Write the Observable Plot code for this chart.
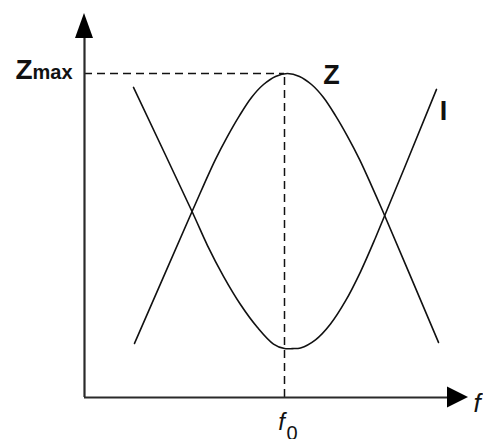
<!DOCTYPE html>
<html>
<head>
<meta charset="utf-8">
<script src="https://cdn.jsdelivr.net/npm/d3@7"></script>
<script src="https://cdn.jsdelivr.net/npm/@observablehq/plot@0.6"></script>
<style>
  html, body { margin: 0; padding: 0; background: #fff; }
  #chart svg { display: block; }
</style>
</head>
<body>
<div id="chart"></div>
<script>
// ---- data (frequency in units where f0 = 100, impedance where Zmax = 100) ----
const F0 = 100;
const ZMAX = 100;

const zFreq  = [25, 54, 59.5, 65.5, 71.5, 77.5, 83.5, 89.5, 95.5, 101.5, 107.5, 113.5, 119.5, 125.5, 131.5, 137.5, 143.5, 149, 177];
const zValue = [16.7, 57.7, 65.4, 73.5, 80.6, 87.0, 92.6, 96.6, 99.1, 100, 99.1, 96.6, 92.6, 87.0, 80.6, 73.5, 65.4, 57.7, 17.0];

const iFreq  = [24.5, 54, 61.5, 69.5, 78, 86.5, 94.5, 100, 104, 108, 115.5, 123, 130.5, 138, 145.5, 176];
const iValue = [95.7, 57.1, 46.9, 37.4, 28.7, 21.6, 16.5, 15.1, 15.1, 15.3, 17.8, 22.7, 29.8, 38.8, 49.3, 95.1];

const labelZmaxMain = "Z";
const labelZmaxSub = "max";
const labelZ = "Z";
const labelI = "I";
const labelF = "f";
const labelF0Main = "f";
const labelF0Sub = "0";

// axis extents (data units)
const xAxisEnd = 192;
const yAxisEnd = 118.5;

// ---- derived tables ----
const zData = zFreq.map((f, i) => ({f, v: zValue[i]}));
const iData = iFreq.map((f, i) => ({f, v: iValue[i]}));

const W = 483, H = 439;
const xDomain = [-42, 199.5];
const yDomain = [(397 - 439) / 3.24, 397 / 3.24];

// arrowheads (triangles) at the axis ends, expressed in data units
const yArrowLen = 25 / 3.24, yArrowHalf = 9 / 2;
const xArrowLen = 21 / 2, xArrowHalf = 10.5 / 3.24;
const yArrow = [
  {y: yAxisEnd - yArrowLen, x1: -yArrowHalf, x2: yArrowHalf},
  {y: yAxisEnd, x1: 0, x2: 0}
];
const xArrow = [
  {x: xAxisEnd - xArrowLen, y1: -xArrowHalf, y2: xArrowHalf},
  {x: xAxisEnd, y1: 0, y2: 0}
];

const font = "Liberation Sans, Arial, Helvetica, sans-serif";
const axisColor = "#2a2a2a";

const chart = Plot.plot({
  width: W,
  height: H,
  marginTop: 0, marginRight: 0, marginBottom: 0, marginLeft: 0,
  style: {fontFamily: font, background: "#fff", overflow: "visible"},
  x: {domain: xDomain, range: [0, W], axis: null},
  y: {domain: yDomain, range: [H, 0], axis: null},
  marks: [
    // dashed guide lines to Zmax and f0
    Plot.ruleY([ZMAX], {x1: 0, x2: F0, stroke: "#111", strokeWidth: 1.5, strokeDasharray: "8,5"}),
    Plot.ruleX([F0], {y1: 0, y2: ZMAX, stroke: "#111", strokeWidth: 1.5, strokeDasharray: "8,5"}),
    // curves
    Plot.line(zData, {x: "f", y: "v", curve: "catmull-rom", stroke: "#111", strokeWidth: 1.6}),
    Plot.line(iData, {x: "f", y: "v", curve: "catmull-rom", stroke: "#111", strokeWidth: 1.6}),
    // axes
    Plot.ruleX([0], {y1: 0, y2: yAxisEnd - yArrowLen + 0.5, stroke: axisColor, strokeWidth: 2.2}),
    Plot.ruleY([0], {x1: 0, x2: xAxisEnd - xArrowLen + 0.5, stroke: axisColor, strokeWidth: 2.2}),
    Plot.areaX(yArrow, {y: "y", x1: "x1", x2: "x2", fill: "#000"}),
    Plot.areaY(xArrow, {x: "x", y1: "y1", y2: "y2", fill: "#000"}),
    // labels
    Plot.text([labelZmaxSub], {x: 0, y: ZMAX, text: d => d, textAnchor: "end", lineAnchor: "bottom", dx: -12, dy: 5, fontSize: 20, fontWeight: "bold", fill: "#111"}),
    Plot.text([labelZmaxMain], {x: 0, y: ZMAX, text: d => d, textAnchor: "end", lineAnchor: "bottom", dx: -52, dy: 5, fontSize: 28, fontWeight: "bold", fill: "#111"}),
    Plot.text([labelZ], {x: 123.5, y: 99.4, text: d => d, textAnchor: "middle", lineAnchor: "middle", fontSize: 27, fontWeight: "bold", fill: "#111"}),
    Plot.text([labelI], {x: 179.5, y: 88.3, text: d => d, textAnchor: "middle", lineAnchor: "middle", fontSize: 27, fontWeight: "bold", fill: "#111"}),
    Plot.text([labelF], {x: xAxisEnd, y: 0, text: d => d, textAnchor: "start", lineAnchor: "middle", dx: 5, dy: 6, fontSize: 26, fontStyle: "italic", fill: "#111"}),
    Plot.text([labelF0Main], {x: F0, y: 0, text: d => d, textAnchor: "middle", lineAnchor: "top", dx: -3, dy: 15, fontSize: 24, fontStyle: "italic", fill: "#111"}),
    Plot.text([labelF0Sub], {x: F0, y: 0, text: d => d, textAnchor: "start", lineAnchor: "top", dx: 2, dy: 28, fontSize: 20, fill: "#111"})
  ]
});

document.getElementById("chart").appendChild(chart);
</script>
</body>
</html>
